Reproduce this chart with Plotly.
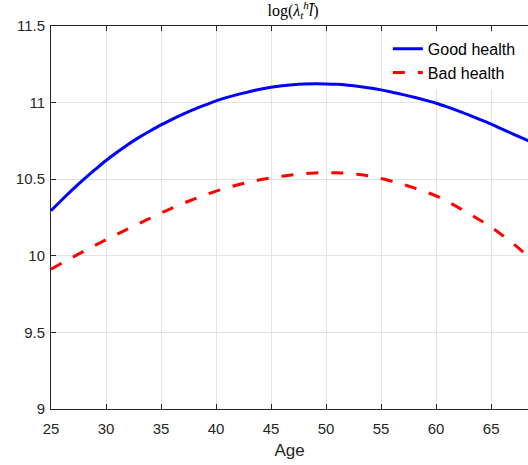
import plotly.graph_objects as go

ages = list(range(25, 71))
good_health = [10.294, 10.366, 10.435, 10.500, 10.562, 10.622, 10.676, 10.727, 10.773, 10.815,
               10.855, 10.891, 10.925, 10.956, 10.984, 11.011, 11.034, 11.054, 11.071, 11.087,
               11.100, 11.110, 11.117, 11.121, 11.123, 11.122, 11.119, 11.113, 11.105, 11.095,
               11.083, 11.068, 11.052, 11.035, 11.016, 10.996, 10.972, 10.946, 10.918, 10.889,
               10.859, 10.827, 10.795, 10.763, 10.730, 10.696]
bad_health = [9.913, 9.953, 9.992, 10.031, 10.068, 10.105, 10.141, 10.176, 10.210, 10.245,
              10.279, 10.311, 10.342, 10.370, 10.397, 10.422, 10.444, 10.464, 10.481, 10.496,
              10.509, 10.520, 10.529, 10.536, 10.541, 10.543, 10.542, 10.538, 10.531, 10.520,
              10.505, 10.487, 10.466, 10.443, 10.418, 10.391, 10.355, 10.316, 10.275, 10.232,
              10.187, 10.135, 10.079, 10.019, 9.955, 9.890]
x_ticks = [25, 30, 35, 40, 45, 50, 55, 60, 65]
y_ticks = [9, 9.5, 10, 10.5, 11, 11.5]
y_tick_labels = ["9", "9.5", "10", "10.5", "11", "11.5"]

fig = go.Figure()
fig.add_trace(go.Scatter(x=ages, y=good_health, mode="lines", name="Good health",
                         line=dict(color="#0000ff", width=3, shape="spline")))
fig.add_trace(go.Scatter(x=ages, y=bad_health, mode="lines", name="Bad health",
                         line=dict(color="#ff0000", width=3, dash="12px,13px", shape="spline")))

axis_color = "#262626"
fig.update_layout(
    width=528, height=465,
    margin=dict(l=51, r=0, t=26, b=56),
    paper_bgcolor="white", plot_bgcolor="white",
    font=dict(family="Liberation Sans, Arial, sans-serif", size=15, color=axis_color),
    title=dict(text="log(<i>λ</i><sub><i>t</i></sub><sup><i>h</i></sup><i>l̄</i>)",
               x=0.555, xanchor="center", y=0.99, yanchor="top",
               font=dict(family="Liberation Serif, Times New Roman, serif", size=16, color="#000000")),
    showlegend=True,
    legend=dict(x=0.985, xanchor="right", y=0.985, yanchor="top", bgcolor="white",
                borderwidth=0, font=dict(size=16, color="#000000"),
                tracegroupgap=0, itemwidth=30),
)
fig.update_xaxes(
    range=[25, 68.35], tickvals=x_ticks, ticktext=[str(t) for t in x_ticks],
    showgrid=True, gridcolor="#e3e3e3", gridwidth=1,
    showline=True, linecolor=axis_color, linewidth=1, mirror="ticks",
    ticks="inside", ticklen=5, tickcolor=axis_color,
    ticklabelstandoff=6,
    zeroline=False,
    title=dict(text="Age", font=dict(size=17, color=axis_color), standoff=8),
)
fig.update_yaxes(
    range=[9, 11.5], tickvals=y_ticks, ticktext=y_tick_labels,
    showgrid=True, gridcolor="#e3e3e3", gridwidth=1,
    showline=True, linecolor=axis_color, linewidth=1, mirror=False,
    ticks="inside", ticklen=5, tickcolor=axis_color,
    ticklabelstandoff=2,
    zeroline=False,
)

fig.write_html("out.html")
